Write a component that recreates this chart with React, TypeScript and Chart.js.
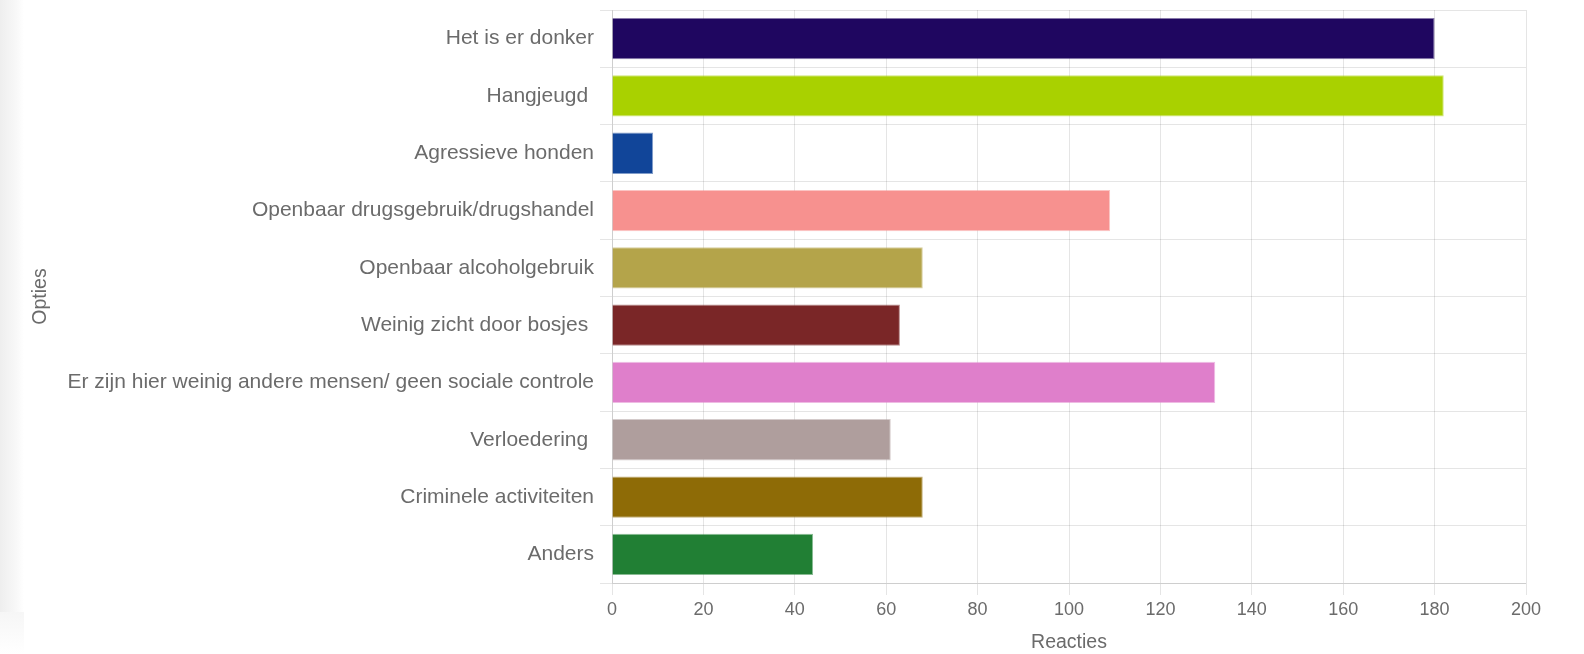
import React, { useEffect, useRef } from "react";
import { Chart, registerables } from "chart.js";

Chart.register(...registerables);

const categories = [
  "Het is er donker",
  "Hangjeugd ",
  "Agressieve honden",
  "Openbaar drugsgebruik/drugshandel",
  "Openbaar alcoholgebruik",
  "Weinig zicht door bosjes ",
  "Er zijn hier weinig andere mensen/ geen sociale controle",
  "Verloedering ",
  "Criminele activiteiten",
  "Anders",
];

const reacties = [180, 182, 9, 109, 68, 63, 132, 61, 68, 44];

const barColors = [
  "#1F0660",
  "#A9D100",
  "#114599",
  "#F7918F",
  "#B4A44A",
  "#7A2627",
  "#DF7FCB",
  "#AF9E9D",
  "#8E6B06",
  "#217F34",
];

const barBorders = barColors.map((c) => c + "88");

const FONT = "'Liberation Sans', Arial, Helvetica, sans-serif";
const TEXT = "#6b6b6b";
const GRID = "rgba(0,0,0,0.1)";

export default function App() {
  const canvasRef = useRef<HTMLCanvasElement | null>(null);

  useEffect(() => {
    if (!canvasRef.current) return;
    Chart.defaults.font.family = FONT;
    const chart = new Chart(canvasRef.current, {
      type: "bar",
      data: {
        labels: categories,
        datasets: [
          {
            label: "Reacties",
            data: reacties,
            backgroundColor: barColors,
            borderColor: barBorders,
            borderWidth: 1,
          },
        ],
      },
      options: {
        indexAxis: "y",
        responsive: true,
        maintainAspectRatio: false,
        animation: false,
        layout: { padding: { left: 25, top: 10, right: 58, bottom: 0 } },
        plugins: {
          legend: { display: false },
          tooltip: { enabled: false },
        },
        scales: {
          x: {
            min: 0,
            max: 200,
            ticks: {
              stepSize: 20,
              color: TEXT,
              font: { size: 18, family: FONT },
              padding: 4,
            },
            grid: { color: GRID, tickLength: 12 },
            border: { color: GRID },
            title: {
              display: true,
              text: "Reacties",
              color: TEXT,
              font: { size: 19.5, family: FONT },
              padding: { top: 4, bottom: 0 },
            },
            afterFit: (scale: any) => {
              scale.height = 71;
            },
          },
          y: {
            ticks: {
              color: TEXT,
              font: { size: 21, family: FONT },
              padding: 6,
              autoSkip: false,
            },
            grid: { color: GRID, tickLength: 12 },
            border: { color: GRID },
            title: {
              display: true,
              text: "Opties",
              color: TEXT,
              font: { size: 19.5, family: FONT },
              padding: { top: 4, bottom: 4 },
            },
            afterFit: (scale: any) => {
              scale.width = 587;
              scale.paddingTop = 0;
              scale.paddingBottom = 0;
            },
          },
        },
      },
    });
    return () => chart.destroy();
  }, []);

  return (
    <div
      style={{
        position: "absolute",
        left: 0,
        top: 0,
        width: 1584,
        height: 654,
        background: "#ffffff",
        overflow: "hidden",
      }}
    >
      <div
        style={{
          position: "absolute",
          left: 0,
          top: 0,
          width: 24,
          height: 612,
          background: "linear-gradient(to right, #eeeeee 0px, #f3f3f3 8px, #f8f8f8 16px, #ffffff 24px)",
        }}
      />
      <div
        style={{
          position: "absolute",
          left: 0,
          top: 612,
          width: 24,
          height: 42,
          background: "linear-gradient(to bottom, #f6f6f6 0px, #ffffff 42px)",
        }}
      />
      <div style={{ position: "absolute", left: 0, top: 0, width: 1584, height: 654 }}>
        <canvas ref={canvasRef} />
      </div>
    </div>
  );
}
